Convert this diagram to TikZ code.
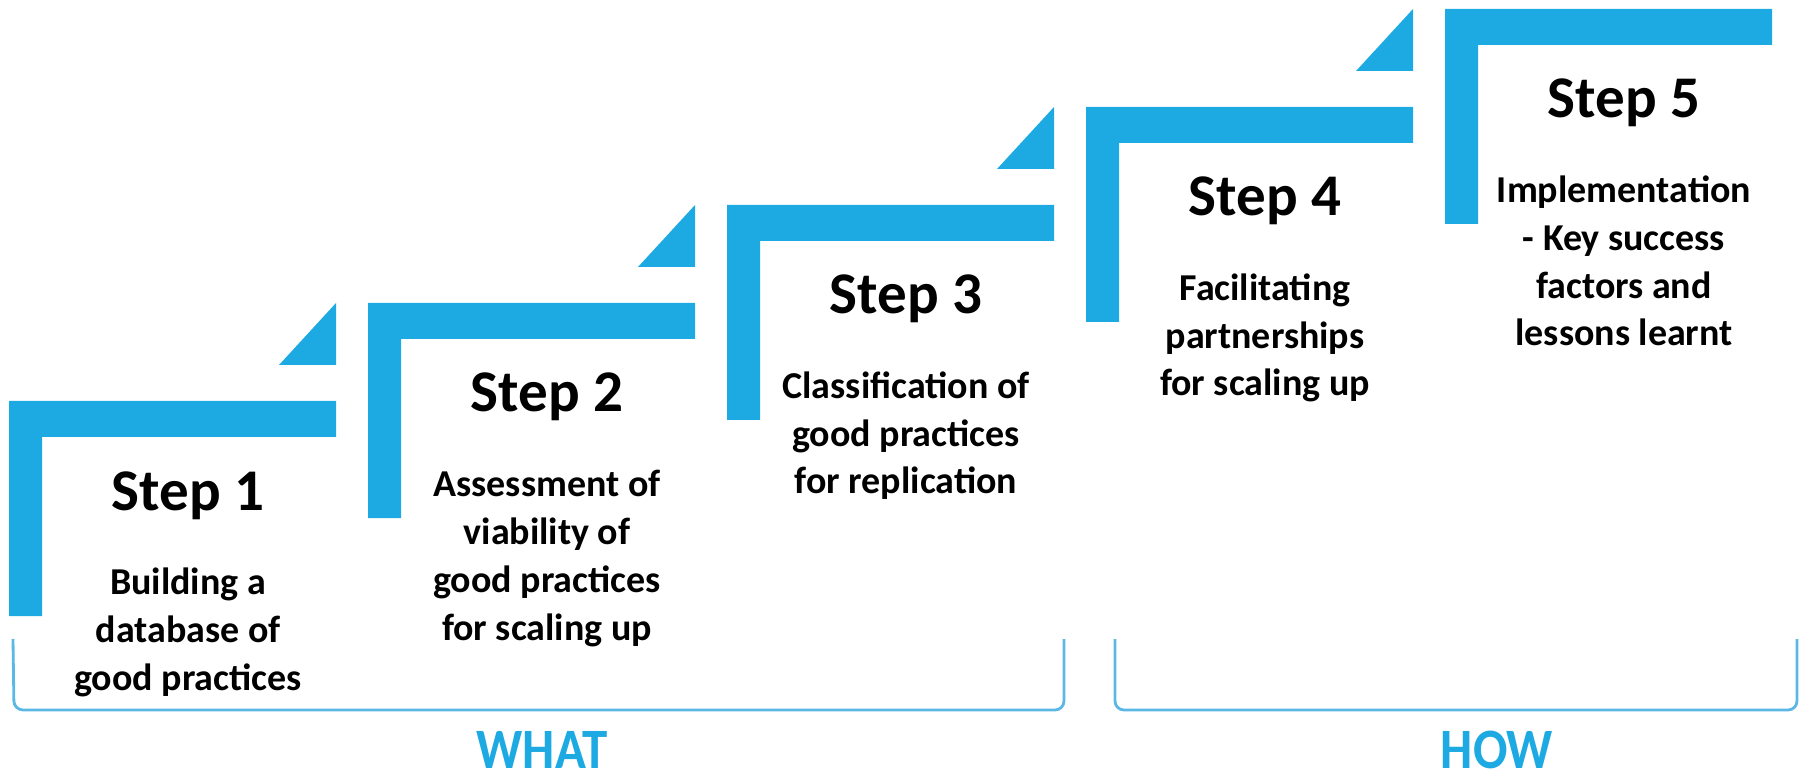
\documentclass[tikz,border=0pt]{standalone}
\usepackage{fontspec}
\setmainfont{Carlito}
\definecolor{stepblue}{HTML}{1DA9E1}
\definecolor{braceblue}{HTML}{5BB8E4}
\tikzset{
  stepbar/.style={fill=stepblue},
  steptitle/.style={anchor=base, inner sep=0pt, font=\bfseries\fontsize{16.8}{20}\selectfont},
  stepdesc/.style={anchor=base, inner sep=0pt, align=center, font=\bfseries\fontsize{10.8}{13.6}\selectfont},
  groupline/.style={draw=braceblue, line width=0.8pt, rounded corners=0.9mm},
  grouplabel/.style={anchor=base, inner sep=0pt, text=stepblue, font=\bfseries\fontsize{14.5}{17}\selectfont}
}
\begin{document}
\begin{tikzpicture}[x=0.01cm, y=-0.01cm]
\useasboundingbox (0,0) rectangle (1802,779);

% Step bars
\fill[stepbar] (9,401) -- (336,401) -- (336,437) -- (42,437) -- (42,616) -- (9,616) -- cycle;
\fill[stepbar] (368,303) -- (695,303) -- (695,339) -- (401,339) -- (401,518) -- (368,518) -- cycle;
\fill[stepbar] (727,205) -- (1054,205) -- (1054,241) -- (760,241) -- (760,420) -- (727,420) -- cycle;
\fill[stepbar] (1086,107) -- (1413,107) -- (1413,143) -- (1119,143) -- (1119,322) -- (1086,322) -- cycle;
\fill[stepbar] (1445,9) -- (1772,9) -- (1772,45) -- (1478,45) -- (1478,224) -- (1445,224) -- cycle;

% Corner triangles
\fill[stepbar] (279,365) -- (336,365) -- (336,303) -- cycle;
\fill[stepbar] (638,267) -- (695,267) -- (695,205) -- cycle;
\fill[stepbar] (997,169) -- (1054,169) -- (1054,107) -- cycle;
\fill[stepbar] (1356,71) -- (1413,71) -- (1413,9) -- cycle;

% Titles
\node[steptitle] (title1) at (188,510) {Step 1};
\node[steptitle] (title2) at (547,412) {Step 2};
\node[steptitle] (title3) at (906,314) {Step 3};
\node[steptitle] (title4) at (1265,216) {Step 4};
\node[steptitle] (title5) at (1624,118) {Step 5};

% Descriptions (base = last line)
\node[stepdesc] (desc1) at (188,690) {Building a\\database of\\good practices};
\node[stepdesc] (desc2) at (547,640) {Assessment of\\viability of\\good practices\\for scaling up};
\node[stepdesc] (desc3) at (906,494) {Classification of\\good practices\\for replication};
\node[stepdesc] (desc4) at (1265,396) {Facilitating\\partnerships\\for scaling up};
\node[stepdesc] (desc5) at (1624,346) {Implementation\\- Key success\\factors and\\lessons learnt};

% Groups
\draw[groupline] (13,639) -- (14,710) -- (1064,710) -- (1064,639);
\draw[groupline] (1115,639) -- (1115,710) -- (1797,710) -- (1797,639);
\node[grouplabel] (what) at (542,768) {\scalebox{1}[1.12]{WHAT}};
\node[grouplabel] (how) at (1497,768) {\scalebox{1}[1.12]{HOW}};
\end{tikzpicture}
\end{document}
